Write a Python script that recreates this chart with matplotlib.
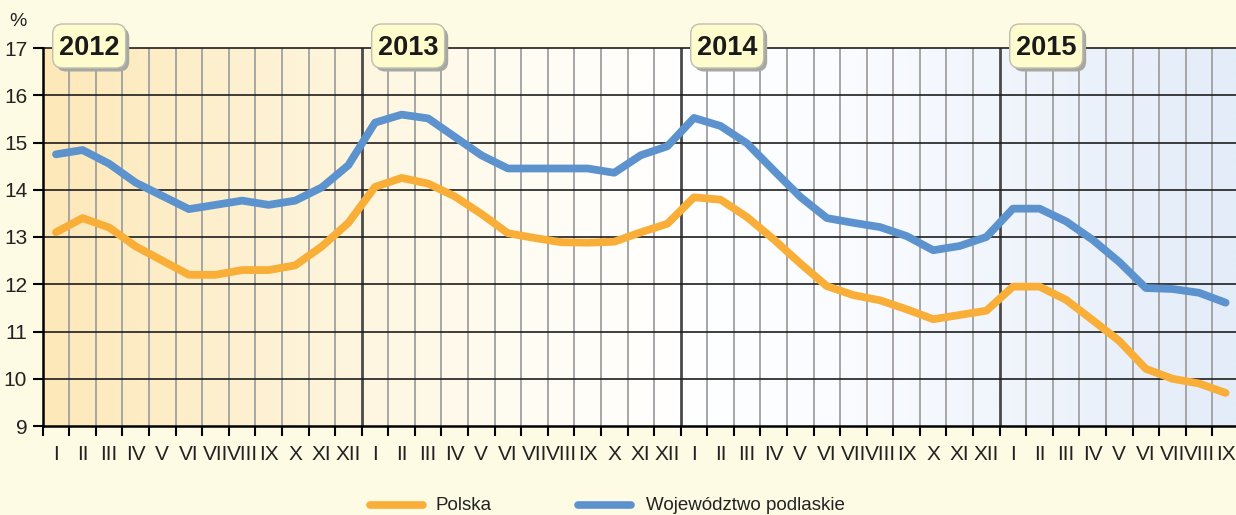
import numpy as np
import matplotlib
matplotlib.use('Agg')
import matplotlib.pyplot as plt
from matplotlib import font_manager, transforms
from matplotlib.patches import FancyBboxPatch
from matplotlib.colors import LinearSegmentedColormap
from matplotlib.lines import Line2D

# ---------------- data ----------------
years = ['2012', '2013', '2014', '2015']
months = ['I', 'II', 'III', 'IV', 'V', 'VI', 'VII', 'VIII', 'IX', 'X', 'XI', 'XII']
month_labels = months * 3 + months[:9]

polska = [13.1, 13.4, 13.2, 12.8, 12.5, 12.2, 12.2, 12.3, 12.3, 12.4, 12.8, 13.3,
          14.06, 14.25, 14.13, 13.86, 13.49, 13.08, 12.98, 12.89, 12.88, 12.9, 13.1, 13.28,
          13.84, 13.79, 13.42, 12.95, 12.44, 11.96, 11.77, 11.66, 11.47, 11.26, 11.35, 11.44,
          11.95, 11.95, 11.67, 11.24, 10.8, 10.21, 10.0, 9.9, 9.7]
podlaskie = [14.75, 14.84, 14.55, 14.15, 13.87, 13.59, 13.68, 13.77, 13.68, 13.77, 14.05, 14.52,
             15.42, 15.59, 15.51, 15.12, 14.73, 14.45, 14.45, 14.45, 14.45, 14.36, 14.73, 14.92,
             15.52, 15.35, 14.98, 14.41, 13.85, 13.4, 13.3, 13.21, 13.02, 12.72, 12.81, 13.0,
             13.6, 13.6, 13.33, 12.94, 12.47, 11.92, 11.9, 11.82, 11.61]
series_names = ['Polska', 'Województwo podlaskie']

# ---------------- style ----------------
names = {f.name for f in font_manager.fontManager.ttflist}
narrow = 'Liberation Sans Narrow' if 'Liberation Sans Narrow' in names else None
plt.rcParams['font.family'] = ['Liberation Sans', 'DejaVu Sans']

ORANGE = '#F9AE38'
BLUE = '#5C93CE'
BG = '#FDFBE4'
TXT = '#222222'

W, H = 1236, 515
fig = plt.figure(figsize=(W / 100, H / 100), dpi=100)
fig.patch.set_facecolor(BG)
ax = fig.add_axes([42.7 / W, 89 / H, 1196.2 / W, 378 / H])
ax.set_xlim(0, 45)
ax.set_ylim(9, 17)

# background gradient
stops = [(0, '#FDE8B9'), (12, '#FEF6DF'), (18, '#FFFCF3'), (24, '#FFFFFF'),
         (30, '#FAFCFF'), (36, '#F1F5FC'), (45, '#E3ECF9')]
cmap = LinearSegmentedColormap.from_list('bg', [(p / 45, c) for p, c in stops])
grad = np.linspace(0, 1, 900).reshape(1, -1)
ax.imshow(grad, cmap=cmap, extent=[0, 45, 9, 17], aspect='auto', zorder=0,
          interpolation='bilinear')

# grid
for m in range(1, 45):
    if m % 12 == 0:
        ax.axvline(m, color='#4A4A4A', lw=2.0, zorder=1.2)
    else:
        ax.axvline(m, color='#A6A6A6', lw=1.4, zorder=1)
for v in range(10, 18):
    ax.axhline(v, color='#1E1E1E', lw=1.2, zorder=1.5, clip_on=False)

for s in ['top', 'right']:
    ax.spines[s].set_visible(False)
for s in ['left', 'bottom']:
    ax.spines[s].set_linewidth(1.8)
    ax.spines[s].set_color('black')
    ax.spines[s].set_zorder(5)

# data lines
x = np.arange(len(polska)) + 0.5
ax.plot(x, polska, color=ORANGE, lw=5.6, solid_capstyle='round',
        solid_joinstyle='round', zorder=3)
ax.plot(x, podlaskie, color=BLUE, lw=5.6, solid_capstyle='round',
        solid_joinstyle='round', zorder=3.1)

# ticks
ax.set_xticks(range(46))
ax.set_xticklabels([])
ax.tick_params(axis='x', which='major', length=7, width=1.5, direction='out', color='black')
ax.set_xticks(x, minor=True)
ax.set_xticklabels(month_labels, minor=True)
ax.tick_params(axis='x', which='minor', length=0, pad=14, labelsize=15, labelcolor=TXT)
ax.set_yticks(range(9, 18))
ax.tick_params(axis='y', length=7.2, width=1.5, pad=4, labelsize=15, labelcolor=TXT)

# year boxes
for i, yr in enumerate(years):
    cx = 12 * i + 1.75
    trans = fig.dpi_scale_trans + transforms.ScaledTranslation(cx, 17, ax.transData)
    shadow = FancyBboxPatch((-0.365 + 0.035, -0.20 - 0.035), 0.73, 0.44,
                            boxstyle='round,pad=0,rounding_size=0.1', transform=trans,
                            fc='#A8A8A2', ec='none', zorder=10, clip_on=False)
    box = FancyBboxPatch((-0.365, -0.20), 0.73, 0.44,
                         boxstyle='round,pad=0,rounding_size=0.1', transform=trans,
                         fc='#FEFCCC', ec='#BEBEB2', lw=1.0, zorder=11, clip_on=False)
    ax.add_patch(shadow)
    ax.add_patch(box)
    kw = dict(family=narrow, fontsize=22) if narrow else dict(fontsize=19.5)
    ax.text(cx, 17, yr, ha='center', va='center', fontweight='bold',
            color='#1A1A1A', zorder=12, clip_on=False, **kw)

# % label
fig.text(18 / W, 1 - 21 / H, '%', ha='center', va='center', fontsize=14, color=TXT)

# legend
for (x0, x1, tx), col, name in zip([(370, 423, 436), (578, 631, 646)], [ORANGE, BLUE], series_names):
    fig.add_artist(Line2D([x0 / W, x1 / W], [1 - 505 / H] * 2, transform=fig.transFigure,
                          color=col, lw=5.5, solid_capstyle='round'))
    fig.text(tx / W, 1 - 505 / H, name, ha='left', va='center', fontsize=13.5, color=TXT)

fig.savefig('out.png', dpi=100, facecolor=BG)
